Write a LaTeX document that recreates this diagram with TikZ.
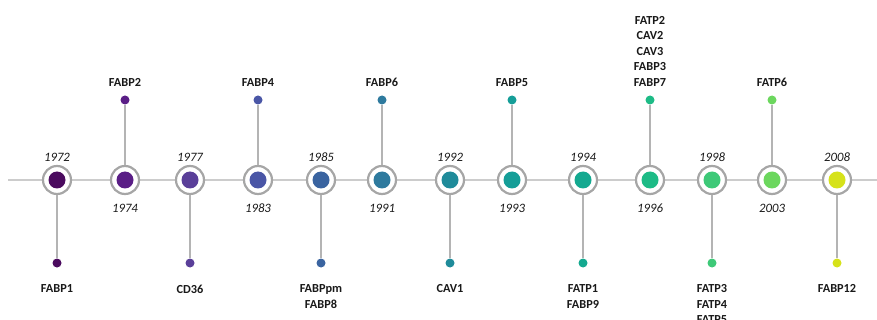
\documentclass[tikz,border=0pt]{standalone}
\usepackage{fontspec}
\setmainfont{Carlito}
\definecolor{axisgray}{HTML}{CCCCCC}
\definecolor{ringgray}{HTML}{A6A6A6}
\definecolor{stemgray}{HTML}{B4B4B4}
\definecolor{c1}{HTML}{4B0B5F}
\definecolor{c2}{HTML}{5A1E86}
\definecolor{c3}{HTML}{5A3F99}
\definecolor{c4}{HTML}{4A56A6}
\definecolor{c5}{HTML}{3A64A0}
\definecolor{c6}{HTML}{2E7A9E}
\definecolor{c7}{HTML}{1F8B9A}
\definecolor{c8}{HTML}{159E98}
\definecolor{c9}{HTML}{14A990}
\definecolor{c10}{HTML}{1DBB86}
\definecolor{c11}{HTML}{3EC978}
\definecolor{c12}{HTML}{6CD75E}
\definecolor{c13}{HTML}{D6E21A}
\tikzset{
  axisline/.style={draw=axisgray, line width=1.6pt},
  ring/.style={circle, draw=ringgray, line width=2.2pt, fill=white, minimum size=28pt, inner sep=0pt},
  core/.style={circle, fill=#1, minimum size=17pt, inner sep=0pt},
  enddot/.style={circle, fill=#1, minimum size=9pt, inner sep=0pt},
  stem/.style={draw=stemgray, line width=1.8pt},
  gene/.style={font=\bfseries\fontsize{12.3}{15.5}\selectfont, align=center, inner sep=0pt, text=black!90},
  yr/.style={font=\itshape\fontsize{12.8}{14}\selectfont, inner sep=0pt, anchor=base, text=black!90},
}
\begin{document}
\begin{tikzpicture}[x=1pt,y=-1pt]
\useasboundingbox (0,0) rectangle (877,320);
\coordinate (axL) at (8,180);
\coordinate (axR) at (877,180);
\draw[axisline] (axL) -- (axR);
\foreach \i/\x/\c/\d/\yr/\lab in {
  1/57/c1/1/1972/FABP1,
  2/125/c2/0/1974/FABP2,
  3/190/c3/1/1977/CD36,
  4/258/c4/0/1983/FABP4,
  5/321/c5/1/1985/{FABPpm\\FABP8},
  6/382/c6/0/1991/FABP6,
  7/450/c7/1/1992/CAV1,
  8/512/c8/0/1993/FABP5,
  9/583/c9/1/1994/{FATP1\\FABP9},
  10/650/c10/0/1996/{FATP2\\CAV2\\CAV3\\FABP3\\FABP7},
  11/712/c11/1/1998/{FATP3\\FATP4\\FATP5},
  12/772/c12/0/2003/FATP6,
  13/837/c13/1/2008/FABP12}
{
  \ifnum\d=1
    \node[enddot=\c] (e\i) at (\x,263) {};
    \node[gene,anchor=north] (g\i) at (\x,284.5) {\lab};
    \node[yr] (y\i) at (\x,161.5) {\yr};
  \else
    \node[enddot=\c] (e\i) at (\x,100) {};
    \node[gene,anchor=south] (g\i) at (\x,86.5) {\lab};
    \node[yr] (y\i) at (\x,212.5) {\yr};
  \fi
  \node[ring] (r\i) at (\x,180) {};
  \node[core=\c] (k\i) at (\x,180) {};
  \draw[stem] (r\i) -- (e\i);
}
\end{tikzpicture}
\end{document}
